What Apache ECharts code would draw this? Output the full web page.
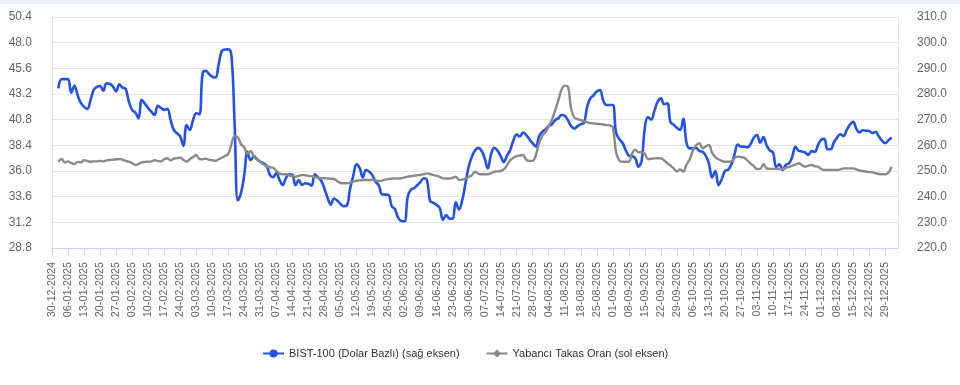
<!DOCTYPE html>
<html>
<head>
<meta charset="utf-8">
<script src="https://cdn.jsdelivr.net/npm/echarts@6/dist/echarts.min.js"></script>
<style>
html,body{margin:0;padding:0;background:#fff;}
#topbar{position:absolute;left:0;top:0;width:960px;height:4px;background:#eef0f7;}
#chart{width:960px;height:385px;}
</style>
</head>
<body>
<div id="topbar"></div>
<div id="chart"></div>
<script>
// Categories: trading-week days (Mon-Fri) from 30-12-2024 to 02-01-2026
const startDate = [2024, 11, 30];
const endDate = [2026, 0, 2];
const categories = [];
(function () {
  const d = new Date(Date.UTC(startDate[0], startDate[1], startDate[2]));
  const e = new Date(Date.UTC(endDate[0], endDate[1], endDate[2]));
  while (d <= e) {
    const wd = d.getUTCDay();
    if (wd !== 0 && wd !== 6) {
      const dd = String(d.getUTCDate()).padStart(2, '0');
      const mm = String(d.getUTCMonth() + 1).padStart(2, '0');
      categories.push(dd + '-' + mm + '-' + d.getUTCFullYear());
    }
    d.setUTCDate(d.getUTCDate() + 1);
  }
})();

const seriesNames = ['BIST-100 (Dolar Bazlı) (sağ eksen)', 'Yabancı Takas Oran (sol eksen)'];

// BIST-100 in USD terms (right axis)
const bist100 = [
  null, null, 282.2, 285.8, 285.8,
  285.8, 280.5, 283.2, 279.5, 276.5,
  275.0, 274.2, 277.5, 281.6, 282.8,
  283.1, 281.2, 284.2, 284.0, 283.0,
  281.0, 283.8, 282.5, 282.0, 277.0,
  273.8, 272.8, 270.5, 277.7, 276.2,
  274.5, 273.1, 271.8, 275.4, 274.6,
  273.8, 274.2, 269.9, 266.0, 264.7,
  263.5, 259.9, 267.9, 266.0, 269.8,
  272.5, 272.1, 288.1, 289.0, 287.8,
  286.8, 286.4, 291.5, 296.8, 297.3,
  297.4, 295.0, 268.0, 238.5, 241.5,
  248.4, 257.5, 254.2, 255.8, 254.6,
  253.6, 253.0, 252.0, 248.5, 247.6,
  249.2, 246.5, 244.6, 247.2, 248.7,
  248.5, 244.5, 246.5, 244.6, 245.2,
  245.0, 244.3, 248.7, 247.5, 246.2,
  243.2, 239.5, 236.9, 239.3, 238.5,
  237.2, 236.3, 236.5, 243.0, 248.0,
  252.6, 251.2, 247.5, 250.4, 249.7,
  248.3, 245.8, 244.3, 240.9, 240.8,
  240.7, 236.3, 235.2, 231.8, 230.5,
  230.4, 240.0, 242.7, 243.3, 244.5,
  245.8, 247.2, 246.5, 238.3, 237.6,
  236.8, 235.6, 231.0, 232.8, 231.5,
  231.4, 237.8, 235.0, 238.5, 245.0,
  251.5, 255.5, 258.0, 259.0, 258.0,
  255.0, 251.0, 256.5, 259.0, 258.0,
  255.8, 253.5, 256.0, 258.2, 262.0,
  264.2, 263.5, 265.0, 264.0, 262.3,
  260.8, 259.5, 263.5, 265.3, 266.2,
  267.5, 268.2, 269.8, 270.5, 271.8,
  271.5, 269.8, 267.5, 266.5, 267.5,
  268.2, 268.8, 275.0, 278.3, 279.5,
  281.0, 281.5, 277.5, 275.7, 275.7,
  275.7, 265.0, 262.5, 261.0, 258.2,
  256.0, 255.8, 255.0, 251.7, 254.0,
  267.0, 271.0, 270.0, 273.5, 277.0,
  278.3, 276.0, 276.4, 269.0, 268.0,
  266.8, 266.0, 270.3, 261.0, 258.8,
  258.8, 259.0, 257.8, 257.5, 256.0,
  253.0, 247.5, 250.0, 244.5, 246.8,
  250.0, 250.5, 252.5, 256.5, 260.3,
  259.5, 259.5, 259.2, 260.5, 263.0,
  264.0, 261.0, 263.2, 260.0, 258.0,
  257.2, 251.6, 252.6, 250.4, 252.4,
  253.0, 255.5, 259.4, 257.9, 257.6,
  257.2, 256.3, 257.8, 257.4, 260.0,
  262.1, 262.5, 258.5, 258.5, 261.2,
  263.0, 264.3, 263.6, 266.0, 268.0,
  269.2, 266.5, 265.0, 265.9, 265.7,
  265.6, 264.8, 265.3, 263.5, 261.8,
  260.8, 262.0, 263.0
];

// Foreign ownership ratio, % (left axis)
const yabanciTakas = [
  null, null, 36.87, 37.12, 36.80,
  36.90, 36.75, 36.65, 36.85, 36.80,
  37.00, 36.95, 36.87, 36.90, 36.90,
  36.95, 36.90, 37.00, 37.03, 37.05,
  37.10, 37.12, 37.05, 36.95, 36.87,
  36.75, 36.56, 36.65, 36.80, 36.85,
  36.87, 36.90, 37.00, 36.95, 36.90,
  37.10, 37.19, 37.00, 37.15, 37.20,
  37.24, 37.05, 36.87, 37.10, 37.30,
  37.50, 37.12, 37.10, 37.15, 37.05,
  37.00, 36.96, 37.10, 37.24, 37.40,
  37.60, 38.50, 39.25, 39.15, 38.50,
  38.20, 37.60, 37.87, 37.34, 37.10,
  36.87, 36.60, 36.45, 36.35, 36.30,
  36.00, 35.75, 35.70, 35.69, 35.60,
  35.50, 35.47, 35.55, 35.63, 35.60,
  35.55, 35.50, 35.45, 35.37, 35.35,
  35.32, 35.30, 35.28, 35.25, 35.05,
  34.88, 34.85, 34.85, 34.90, 35.00,
  35.09, 35.12, 35.16, 35.16, 35.16,
  35.16, 35.12, 35.06, 35.10, 35.20,
  35.25, 35.28, 35.31, 35.30, 35.32,
  35.40, 35.47, 35.52, 35.56, 35.60,
  35.63, 35.70, 35.78, 35.72, 35.63,
  35.55, 35.45, 35.31, 35.30, 35.30,
  35.35, 35.47, 35.16, 35.20, 35.30,
  35.45, 35.60, 35.93, 35.75, 35.69,
  35.69, 35.70, 35.80, 35.93, 35.97,
  36.00, 36.15, 36.55, 37.00, 37.25,
  37.40, 37.45, 37.50, 37.03, 36.95,
  36.95, 37.50, 38.60, 39.30, 39.65,
  40.20, 40.80, 41.65, 42.60, 43.60,
  43.98, 43.88, 41.80, 41.00, 40.86,
  40.75, 40.65, 40.55, 40.50, 40.45,
  40.42, 40.39, 40.35, 40.30, 40.26,
  40.10, 37.80, 37.00, 36.87, 36.87,
  36.87, 37.60, 38.00, 37.75, 37.75,
  37.60, 37.12, 37.15, 37.18, 37.19,
  37.19, 37.00, 36.72, 36.50, 36.25,
  35.95, 36.15, 35.95, 36.60, 37.10,
  37.90, 38.40, 38.60, 38.12, 38.30,
  38.43, 37.70, 37.30, 37.10, 36.95,
  36.87, 36.87, 36.90, 37.20, 37.34,
  37.30, 37.24, 37.00, 36.70, 36.45,
  36.19, 36.20, 36.63, 36.25, 36.20,
  36.20, 36.20, 36.19, 36.20, 36.30,
  36.38, 36.50, 36.60, 36.72, 36.55,
  36.40, 36.50, 36.56, 36.45, 36.40,
  36.20, 36.09, 36.09, 36.09, 36.09,
  36.09, 36.15, 36.25, 36.25, 36.25,
  36.25, 36.15, 36.05, 36.00, 35.95,
  35.90, 35.88, 35.80, 35.72, 35.69,
  35.69, 35.85, 36.40
];

const leftAxis = { min: 28.8, max: 50.4, interval: 2.4 };
const rightAxis = { min: 220, max: 310, interval: 10 };

const FONT = 'Liberation Sans, Arial, sans-serif';
const chart = echarts.init(document.getElementById('chart'), null, { renderer: 'canvas' });
chart.setOption({
  animation: false,
  backgroundColor: 'transparent',
  grid: { left: 52, right: 62, top: 17, bottom: 137, containLabel: false },
  legend: {
    bottom: 21,
    left: 257,
    itemGap: 26,
    itemWidth: 21,
    itemHeight: 10,
    textStyle: { fontSize: 11, color: '#333', fontFamily: FONT },
    data: seriesNames
  },
  xAxis: {
    type: 'category',
    data: categories,
    boundaryGap: false,
    axisLine: { show: true, lineStyle: { color: '#ccd6eb', width: 1 } },
    axisTick: { show: true, interval: 4, length: 8, lineStyle: { color: '#ccd6eb' } },
    axisLabel: {
      interval: 4, rotate: 90, margin: 14,
      color: '#666', fontSize: 10.8, fontFamily: FONT
    },
    splitLine: { show: false }
  },
  yAxis: [
    {
      type: 'value',
      position: 'left',
      min: leftAxis.min, max: leftAxis.max, interval: leftAxis.interval,
      axisLine: { show: true, lineStyle: { color: '#e6e6e6' } },
      axisTick: { show: false },
      axisLabel: { margin: 20, color: '#666', fontSize: 12, fontFamily: FONT,
        formatter: v => v.toFixed(1) },
      splitLine: { show: true, lineStyle: { color: '#e6e6e6', width: 1 } }
    },
    {
      type: 'value',
      position: 'right',
      min: rightAxis.min, max: rightAxis.max, interval: rightAxis.interval,
      axisLine: { show: true, lineStyle: { color: '#e6e6e6' } },
      axisTick: { show: false },
      axisLabel: { margin: 19, color: '#666', fontSize: 12, fontFamily: FONT,
        formatter: v => v.toFixed(1) },
      splitLine: { show: false }
    }
  ],
  series: [
    {
      name: seriesNames[0],
      type: 'line',
      yAxisIndex: 1,
      data: bist100,
      smooth: 0.4,
      showSymbol: false,
      symbol: 'circle',
      symbolSize: 9,
      itemStyle: { color: '#2352e8' },
      lineStyle: { color: '#2352e8', width: 2.6 },
      connectNulls: false
    },
    {
      name: seriesNames[1],
      type: 'line',
      yAxisIndex: 0,
      data: yabanciTakas,
      smooth: 0.4,
      showSymbol: false,
      symbol: 'diamond',
      symbolSize: 10,
      itemStyle: { color: '#8a8a8a' },
      lineStyle: { color: '#8a8a8a', width: 2.4 }
    }
  ]
});
</script>
</body>
</html>
